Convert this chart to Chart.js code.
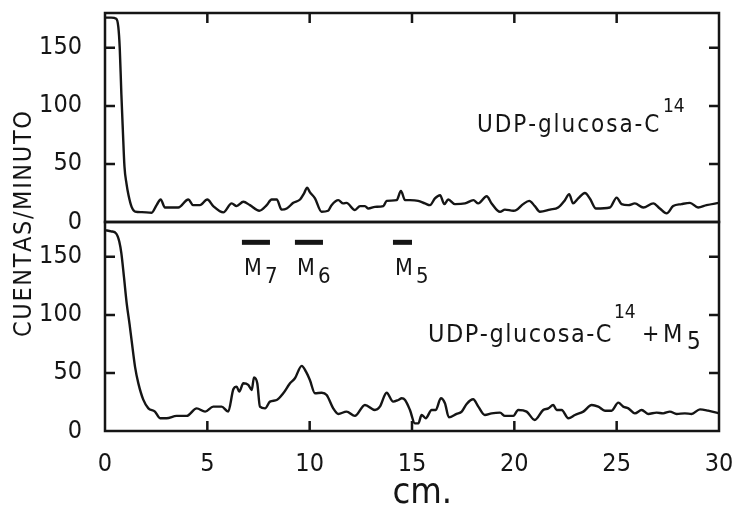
<!DOCTYPE html>
<html>
<head>
<meta charset="utf-8">
<script src="https://cdn.jsdelivr.net/npm/chart.js@4.4.0/dist/chart.umd.min.js"></script>
<style>
  html, body { margin: 0; padding: 0; background: #fff; }
  #wrap { width: 734px; height: 508px; }
</style>
</head>
<body>
<div id="wrap"><canvas id="chromChart" width="734" height="508"></canvas></div>
<script>
// Upper trace: UDP-glucosa-C14 alone (cm along the paper, counts/min)
const topCm = [0, 0.3, 0.55, 0.65, 0.72, 0.8, 0.87, 0.95, 1.05, 1.15, 1.3, 1.47, 1.8, 2.28, 2.52, 2.72, 2.93, 3.58, 4.07, 4.31,
  4.64, 5.0, 5.29, 5.78, 6.19, 6.43, 6.76, 7.08, 7.54, 7.9, 8.14, 8.39, 8.63, 8.88, 9.2, 9.53, 9.72, 9.88, 10.0, 10.26,
  10.58, 10.9, 11.07, 11.4, 11.64, 11.8, 12.21, 12.46, 12.7, 12.87, 13.19, 13.6, 13.76, 14.25, 14.46, 14.66, 14.9, 15.3, 15.63, 15.88,
  16.12, 16.37, 16.58, 16.77, 17.1, 17.59, 18.0, 18.24, 18.65, 18.89, 19.3, 19.54, 19.95, 20.1, 20.43, 20.73, 21.0, 21.25, 21.74, 22.14,
  22.47, 22.68, 22.87, 23.12, 23.45, 23.69, 23.99, 24.67, 25.0, 25.24, 25.57, 25.89, 26.3, 26.79, 27.11, 27.44, 27.76, 28.17, 28.58, 28.98,
  29.39, 30.0];
const topCounts = [176, 176, 175, 168, 150, 110, 80, 48, 33, 23, 13, 9, 8.5, 8, 14.5, 19.4, 12.5, 12.5, 19.4, 14.5,
  14.5, 19.4, 13.7, 8.3, 16, 13.7, 17.4, 14.5, 9.7, 14.5, 19.4, 19.4, 10.7, 11.6, 16.5, 19.4, 24.5, 29.6, 26, 20.3,
  8.8, 9.7, 14.5, 18.8, 16, 16.5, 10.3, 13.7, 13.7, 11.6, 13, 13.7, 18.2, 18.8, 26.8, 18.8, 18.8, 18.2, 16, 14.5,
  20.3, 23.1, 15.4, 19.4, 15.4, 16, 18.8, 16, 22.2, 16, 8.8, 10.7, 9.7, 10.3, 15.4, 18.2, 13.7, 8.8, 10.7, 12.5,
  18.8, 24, 16, 20.3, 25, 20.3, 11.6, 12.5, 21, 15.4, 14.5, 16, 12.5, 16, 11.6, 7.4, 13.7, 15.4, 16.5, 12.5,
  14.5, 16.5];

// Lower trace: UDP-glucosa-C14 + M5
const bottomCm = [0, 0.3, 0.55, 0.7, 0.8, 0.93, 1.06, 1.2, 1.3, 1.47, 1.63, 1.87, 2.12, 2.44, 2.69, 3.01, 3.5, 3.99, 4.48, 4.89,
  5.29, 5.7, 6.02, 6.27, 6.43, 6.56, 6.76, 7.0, 7.17, 7.28, 7.44, 7.57, 7.82, 8.06, 8.39, 8.71, 9.04, 9.28, 9.61, 9.82,
  10.01, 10.26, 10.59, 10.83, 11.15, 11.4, 11.8, 12.21, 12.7, 13.19, 13.43, 13.76, 14.08, 14.33, 14.5, 14.66, 14.9, 15.14, 15.31, 15.47,
  15.67, 15.96, 16.16, 16.41, 16.61, 16.8, 17.18, 17.43, 17.67, 17.99, 18.24, 18.56, 18.89, 19.3, 19.54, 19.95, 20.19, 20.6, 21.0, 21.41,
  21.66, 21.9, 22.07, 22.31, 22.64, 22.96, 23.37, 23.78, 24.1, 24.43, 24.75, 25.08, 25.32, 25.57, 25.89, 26.22, 26.54, 26.95, 27.27, 27.6,
  27.93, 28.33, 28.66, 29.07, 29.47, 30.0];
const bottomCounts = [173, 172, 170, 163, 153, 132, 110, 92, 78, 55, 41, 27, 19.5, 16.7, 11, 11, 13, 13, 19.5, 16.7,
  21, 21, 16.7, 35.9, 38.2, 33.9, 41.1, 39.7, 35.3, 46.2, 41.1, 21, 19.5, 25.3, 26.7, 32.5, 41.1, 45.4, 56.1, 51.1,
  43.9, 32.5, 33, 31, 19.5, 14.7, 16.7, 13, 22.4, 18.1, 21, 33, 25.3, 26.7, 28.2, 26.7, 18.1, 6.6, 6.6, 13.8,
  11, 18.1, 18.1, 28.2, 23.9, 11.8, 14.7, 16.7, 23.3, 27.3, 21, 13.8, 15.2, 15.8, 13, 13, 18.1, 16.7, 9.5, 18.1,
  19.5, 22.4, 18.1, 18.1, 11, 13.8, 16.7, 22.4, 21, 17.5, 17.5, 24.4, 21, 19.5, 15.2, 18.1, 14.7, 15.8, 15.2, 16.7,
  14.7, 15.2, 14.7, 18.6, 17.5, 15.2];

const xTicks = [0, 5, 10, 15, 20, 25, 30];
const yTicks = [0, 50, 100, 150];

// reference spots M7, M6, M5 (cm range, drawn at this count level in the lower panel)
const markerNames = ['7', '6', '5'];
const markerFrom = [6.69, 9.28, 14.07];
const markerTo = [8.06, 10.65, 15.0];
const markerLevel = 162.5;

const INK = '#151515';
const FONT = "'DejaVu Sans Condensed', 'DejaVu Sans', sans-serif";
Chart.defaults.font.family = FONT;
Chart.defaults.color = INK;

function toPoints(xs, ys) {
  return xs.map((x, i) => ({ x: x, y: ys[i] }));
}

function noPadding(s) {
  s.paddingTop = 0; s.paddingBottom = 0; s.paddingLeft = 0; s.paddingRight = 0;
}

function yScale() {
  return {
    type: 'linear',
    min: 0,
    max: 180,
    position: 'left',
    stack: 'panels',
    stackWeight: 1,
    grid: { display: false },
    border: { display: false },
    ticks: { font: { size: 25 }, padding: 15, color: INK },
    afterBuildTicks: s => { s.ticks = yTicks.map(v => ({ value: v })); },
    afterFit: s => { s.width = 105; noPadding(s); }
  };
}

// draw text left-aligned; if width is given, spread the letters out to fill it
function spaced(ctx, text, size, x, y, width) {
  ctx.font = size + 'px ' + FONT;
  ctx.textAlign = 'left';
  if (!width || text.length < 2) { ctx.fillText(text, x, y); return; }
  const gap = (width - ctx.measureText(text).width) / (text.length - 1);
  for (const ch of text) {
    ctx.fillText(ch, x, y);
    x += ctx.measureText(ch).width + gap;
  }
}

const framePlugin = {
  id: 'frames',
  afterDatasetsDraw(chart) {
    const ctx = chart.ctx;
    const xs = chart.scales.x;
    const area = chart.chartArea;
    const panels = [chart.scales.yTop, chart.scales.yBot];
    ctx.save();
    ctx.strokeStyle = INK;
    ctx.lineWidth = 2.5;
    ctx.lineCap = 'butt';
    panels.forEach((ys, k) => {
      ctx.strokeRect(area.left, ys.top, area.right - area.left, ys.bottom - ys.top);
      ctx.beginPath();
      yTicks.slice(1).forEach(v => {
        const py = ys.getPixelForValue(v);
        ctx.moveTo(area.left, py); ctx.lineTo(area.left + 10, py);
        ctx.moveTo(area.right, py); ctx.lineTo(area.right - 10, py);
      });
      xTicks.slice(1, -1).forEach(v => {
        const px = xs.getPixelForValue(v);
        if (k === 0) { ctx.moveTo(px, ys.top); ctx.lineTo(px, ys.top + 10); }
        else { ctx.moveTo(px, ys.bottom); ctx.lineTo(px, ys.bottom - 10); }
      });
      ctx.stroke();
    });

    // marker bars and labels
    const yb = chart.scales.yBot;
    const yt = chart.scales.yTop;
    ctx.fillStyle = INK;
    ctx.textBaseline = 'alphabetic';
    markerNames.forEach((n, i) => {
      const x1 = xs.getPixelForValue(markerFrom[i]);
      const x2 = xs.getPixelForValue(markerTo[i]);
      const py = yb.getPixelForValue(markerLevel);
      ctx.fillRect(x1, py - 2.5, x2 - x1, 5);
      spaced(ctx, 'M', 23, x1 + 2, py + 32.5);
      spaced(ctx, n, 22, x1 + 23, py + 40.5);
    });

    // panel captions
    let lx = xs.getPixelForValue(18.17), ly = yt.getPixelForValue(77.5);
    spaced(ctx, 'UDP-glucosa-C', 24, lx, ly, 182);
    spaced(ctx, '14', 19, lx + 186, ly - 20);
    lx = xs.getPixelForValue(15.78); ly = yb.getPixelForValue(76.6);
    spaced(ctx, 'UDP-glucosa-C', 25, lx, ly, 183);
    spaced(ctx, '14', 19, lx + 186, ly - 24);
    spaced(ctx, '+', 23, lx + 214, ly - 1);
    spaced(ctx, 'M', 25, lx + 235, ly);
    spaced(ctx, '5', 24, lx + 259, ly + 7);

    // x axis title, sits a little right of centre in the original
    ctx.font = '36px ' + FONT;
    ctx.textAlign = 'center';
    ctx.fillText('cm.', xs.getPixelForValue(15.5), 503);

    // y axis title
    ctx.translate(24, 225);
    ctx.rotate(-Math.PI / 2);
    ctx.textBaseline = 'middle';
    ctx.font = '25px ' + FONT;
    const title = 'CUENTAS/MINUTO';
    spaced(ctx, title, 25, -112, 0, 224);
    ctx.restore();
  }
};

new Chart(document.getElementById('chromChart'), {
  type: 'line',
  data: {
    datasets: [
      { label: 'UDP-glucosa-C14', data: toPoints(topCm, topCounts), yAxisID: 'yTop' },
      { label: 'UDP-glucosa-C14 + M5', data: toPoints(bottomCm, bottomCounts), yAxisID: 'yBot' }
    ]
  },
  options: {
    responsive: false,
    animation: false,
    devicePixelRatio: 1,
    layout: { padding: { left: 0, top: 13, right: 15, bottom: 0 } },
    elements: {
      line: { borderColor: INK, borderWidth: 2.4, cubicInterpolationMode: 'monotone', fill: false },
      point: { radius: 0 }
    },
    plugins: { legend: { display: false }, tooltip: { enabled: false } },
    scales: {
      x: {
        type: 'linear',
        min: 0,
        max: 30,
        grid: { display: false },
        border: { display: false },
        ticks: { font: { size: 25 }, padding: 10, color: INK, maxRotation: 0 },
        afterBuildTicks: s => { s.ticks = xTicks.map(v => ({ value: v })); },
        afterFit: s => { s.height = 77; noPadding(s); }
      },
      yBot: yScale(),
      yTop: yScale()
    }
  },
  plugins: [framePlugin]
});
</script>
</body>
</html>
